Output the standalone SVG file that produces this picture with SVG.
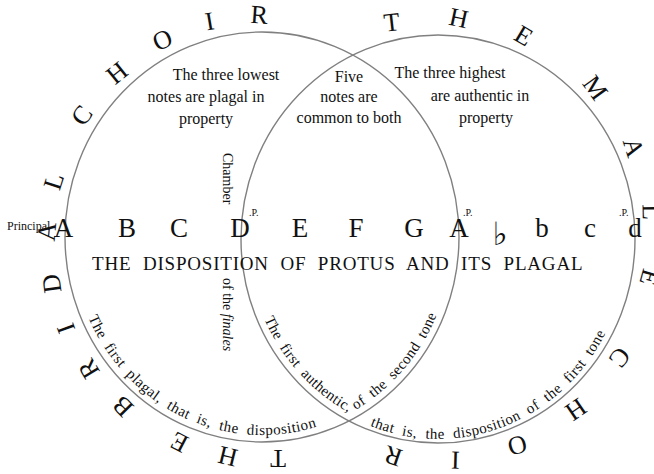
<svg xmlns="http://www.w3.org/2000/svg" width="654" height="474" viewBox="0 0 654 474">
<style>
text{font-family:"Liberation Serif",serif;fill:#111}
.ring{fill:none;stroke:#808080;stroke-width:1.4}
.outer{font-size:26px}
.para{font-size:16px;text-anchor:middle}
.note{font-size:27px;text-anchor:middle}
.p{font-size:10px}
.arc{font-size:15px;letter-spacing:0.5px;word-spacing:4.3px}
.side{font-size:14px}
.flat{font-family:"DejaVu Sans",sans-serif;font-size:32px;text-anchor:middle;fill:#111}
</style>
<defs>
<path id="pL" d="M 468 237 A 206 213 0 0 1 56 237 A 206 213 0 0 1 468 237"/>
<path id="pR" d="M 233 239 A 205 212 0 0 1 643 239 A 205 212 0 0 1 233 239"/>
<path id="aPlagal" d="M 88.4 317.5 A 190 198 0 0 0 357 408.5"/>
<path id="aAuth" d="M 264.4 319 A 190 197 0 0 0 350 413 A 190 198 0 0 0 449 271.4"/>
<path id="aFirst" d="M 370 425.7 A 190 200 0 0 0 621.5 290.8"/>
</defs>

<g id="left-circle">
<ellipse class="ring" cx="262" cy="237" rx="197" ry="205"/>
<text class="outer"><textPath href="#pL" startOffset="305"><tspan style="letter-spacing:31px">THE</tspan><tspan style="letter-spacing:31px;word-spacing:-21px"> </tspan><tspan style="letter-spacing:31.5px">BRIDAL</tspan><tspan style="letter-spacing:31px;word-spacing:-17px"> </tspan><tspan style="letter-spacing:35px">CHOIR</tspan></textPath></text>
<text class="para" x="226" y="80">The three lowest</text>
<text class="para" x="206" y="102">notes are plagal in</text>
<text class="para" x="206" y="124">property</text>
<text class="arc"><textPath href="#aPlagal">The first plagal, that is, the disposition</textPath></text>
</g>

<g id="right-circle">
<ellipse class="ring" cx="438" cy="239" rx="197" ry="204"/>
<text class="outer"><textPath href="#pR" startOffset="274" style="letter-spacing:47px;word-spacing:-35px">THE MALE CHOIR</textPath></text>
<text class="para" x="450" y="78">The three highest</text>
<text class="para" x="480" y="101">are authentic in</text>
<text class="para" x="486" y="123">property</text>
<text class="arc"><textPath href="#aFirst">that is, the disposition of the first tone</textPath></text>
</g>

<g id="overlap">
<text class="para" x="349" y="82">Five</text>
<text class="para" x="349" y="102">notes are</text>
<text class="para" x="349" y="123">common to both</text>
<text class="arc" style="letter-spacing:0.3px;word-spacing:4px"><textPath href="#aAuth">The first authentic, of the second tone</textPath></text>
</g>

<g id="scale">
<text x="7" y="230" style="font-size:12px">Principal</text>
<text class="note" x="63.5" y="237">A</text>
<text class="note" x="127" y="237">B</text>
<text class="note" x="179" y="237">C</text>
<text class="note" x="240" y="237">D</text>
<text class="note" x="300" y="237">E</text>
<text class="note" x="356" y="237">F</text>
<text class="note" x="414" y="237">G</text>
<text class="note" x="459" y="237">A</text>
<text class="flat" x="500" y="245">♭</text>
<text class="note" x="542" y="237">b</text>
<text class="note" x="590" y="237">c</text>
<text class="note" x="635" y="237">d</text>
<text class="p" x="249" y="216">.P.</text>
<text class="p" x="463" y="216">.P.</text>
<text class="p" x="619" y="216">.P.</text>
<text x="92" y="270" style="font-size:19px;letter-spacing:0.8px;word-spacing:6px">THE DISPOSITION OF PROTUS AND ITS PLAGAL</text>
<text class="side" transform="translate(223 153) rotate(90)">Chamber</text>
<text class="side" transform="translate(223 278) rotate(90)">of the <tspan font-style="italic">finales</tspan></text>
</g>
</svg>
